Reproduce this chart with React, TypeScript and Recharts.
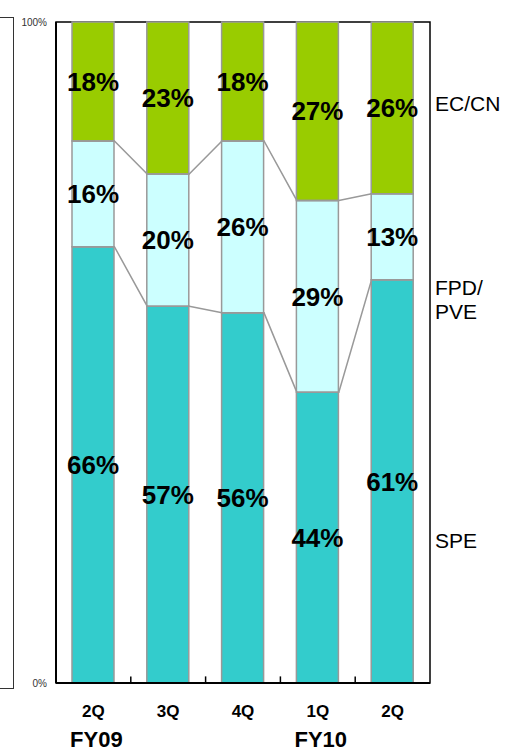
import {
  ComposedChart,
  Bar,
  Line,
  XAxis,
  YAxis,
  LabelList,
  ReferenceLine,
  ReferenceArea,
} from 'recharts';

const quarters = ['2Q', '3Q', '4Q', '1Q', '2Q'];
const fiscalYears = ['FY09', '', '', 'FY10', ''];
const speShare = [66, 57, 56, 44, 61];
const fpdShare = [16, 20, 26, 29, 13];
const ecShare = [18, 23, 18, 27, 26];
const seriesNames = ['SPE', 'FPD/\nPVE', 'EC/CN'];

const FONT = 'Arial, "Liberation Sans", sans-serif';
const BAR_SIZE = 42;
// half a bar, in x-axis units (one category = 74.8px)
const BAR_HALF = 0.281;

const chartData = quarters.map((q, i) => ({
  pos: i,
  quarter: q,
  fy: fiscalYears[i],
  spe: speShare[i],
  fpd: fpdShare[i],
  ec: ecShare[i],
}));

// connector lines run along the top of each segment and across the gaps
const speTopLine = speShare.flatMap((v, i) => [
  { pos: i - BAR_HALF, top: v },
  { pos: i + BAR_HALF, top: v },
]);
const fpdTopLine = speShare.flatMap((v, i) => [
  { pos: i - BAR_HALF, top: v + fpdShare[i] },
  { pos: i + BAR_HALF, top: v + fpdShare[i] },
]);

const labelStyle = { fontSize: 26, fontWeight: 'bold', fill: '#000', fontFamily: FONT };

function QuarterTick(props: any) {
  const { x, y, payload } = props;
  const row = chartData[payload.value];
  if (!row) return null;
  return (
    <g>
      <text x={x} y={y + 26} textAnchor="middle" fontSize={17} fontWeight="bold" fill="#000" fontFamily={FONT}>
        {row.quarter}
      </text>
      {row.fy && (
        <text x={x + 3} y={y + 56} textAnchor="middle" fontSize={22} fontWeight="bold" fill="#000" fontFamily={FONT}>
          {row.fy}
        </text>
      )}
    </g>
  );
}

const sideLabel = (top: number) => ({
  position: 'absolute' as const,
  left: 435,
  top,
  fontFamily: FONT,
  fontSize: 21,
  lineHeight: '24px',
  color: '#000',
  whiteSpace: 'pre' as const,
});

export default function App() {
  return (
    <div style={{ position: 'absolute', left: 0, top: 0, width: 519, height: 754, background: '#fff', overflow: 'hidden' }}>
      <div
        style={{
          position: 'absolute',
          left: -6,
          top: 17,
          width: 20,
          height: 672,
          boxSizing: 'border-box',
          border: '1.5px solid #333',
        }}
      />
      <ComposedChart
        width={519}
        height={754}
        data={chartData}
        margin={{ top: 22, right: 89, bottom: 0, left: 0 }}
      >
        <XAxis
          dataKey="pos"
          type="number"
          domain={[-0.5, 4.5]}
          ticks={[0, 1, 2, 3, 4]}
          height={71}
          tickLine={false}
          axisLine={{ stroke: '#000', strokeWidth: 2 }}
          tick={<QuarterTick />}
        />
        <XAxis xAxisId="conn" dataKey="pos" type="number" domain={[-0.5, 4.5]} hide />
        <YAxis
          type="number"
          domain={[0, 100]}
          ticks={[0, 100]}
          width={56}
          tickLine={false}
          tickMargin={3}
          axisLine={{ stroke: '#000', strokeWidth: 2 }}
          tickFormatter={(v) => `${v}%`}
          tick={{ fontSize: 10, fill: '#333', fontFamily: FONT }}
        />
        <ReferenceArea x1={-0.5} x2={4.5} y1={0} y2={100} fill="none" stroke="#000" strokeWidth={1.5} />
        {quarters.slice(1).map((q, i) => (
          <ReferenceLine
            key={`sep-${i}`}
            segment={[
              { x: i + 0.5, y: 0 },
              { x: i + 0.5, y: 1 },
            ]}
            stroke="#000"
            strokeWidth={1.5}
          />
        ))}
        <Bar dataKey="spe" stackId="a" fill="#33CCCC" stroke="#999" strokeWidth={1.5} barSize={BAR_SIZE} isAnimationActive={false}>
          <LabelList dataKey="spe" position="center" formatter={(v: any) => `${v}%`} style={labelStyle} />
        </Bar>
        <Bar dataKey="fpd" stackId="a" fill="#CCFFFF" stroke="#999" strokeWidth={1.5} barSize={BAR_SIZE} isAnimationActive={false}>
          <LabelList dataKey="fpd" position="center" formatter={(v: any) => `${v}%`} style={labelStyle} />
        </Bar>
        <Bar dataKey="ec" stackId="a" fill="#99CC00" stroke="#999" strokeWidth={1.5} barSize={BAR_SIZE} isAnimationActive={false}>
          <LabelList dataKey="ec" position="center" formatter={(v: any) => `${v}%`} style={labelStyle} />
        </Bar>
        <Line xAxisId="conn" data={speTopLine} dataKey="top" type="linear" stroke="#999" strokeWidth={1.5} dot={false} activeDot={false} isAnimationActive={false} />
        <Line xAxisId="conn" data={fpdTopLine} dataKey="top" type="linear" stroke="#999" strokeWidth={1.5} dot={false} activeDot={false} isAnimationActive={false} />
      </ComposedChart>
      <div style={sideLabel(92)}>{seriesNames[2]}</div>
      <div style={sideLabel(276)}>{seriesNames[1]}</div>
      <div style={sideLabel(529)}>{seriesNames[0]}</div>
    </div>
  );
}
